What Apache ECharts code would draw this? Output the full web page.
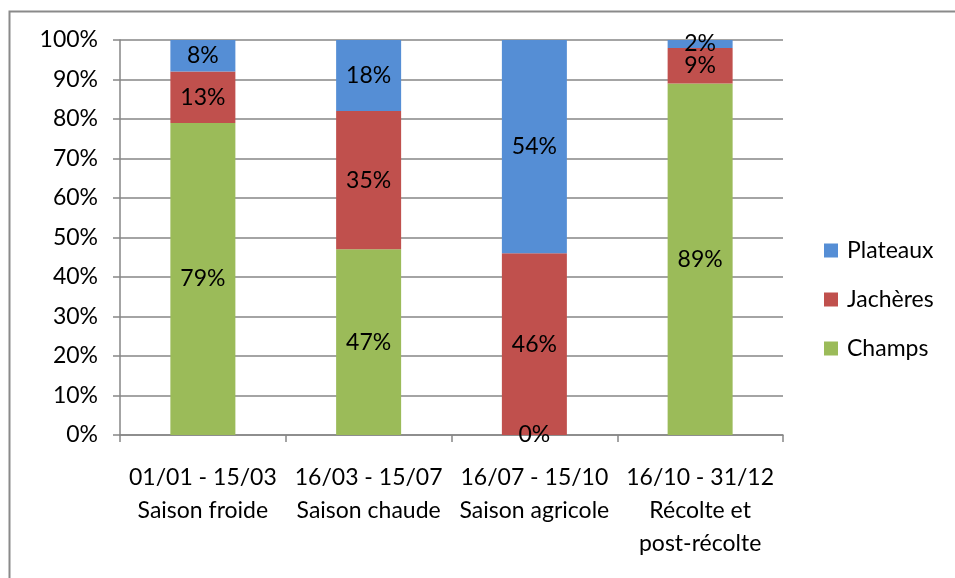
<!DOCTYPE html>
<html>
<head>
<meta charset="utf-8">
<script src="https://cdn.jsdelivr.net/npm/echarts@6/dist/echarts.min.js"></script>
<style>
  html, body { margin: 0; padding: 0; background: #fff; }
  #main { width: 955px; height: 578px; }
</style>
</head>
<body>
<div id="main"></div>
<script>
// periodes (axe x)
var categories = [
    '01/01 - 15/03\nSaison froide',
    '16/03 - 15/07\nSaison chaude',
    '16/07 - 15/10\nSaison agricole',
    '16/10 - 31/12\nRécolte et\npost-récolte'
];
// parts en %
var champs = [79, 47, 0, 89];
var jacheres = [13, 35, 46, 9];
var plateaux = [8, 18, 54, 2];

var font = 'Lato, "Open Sans", sans-serif';
var fs = 23;

var dom = document.getElementById('main');
var myChart = echarts.init(dom, null, { renderer: 'canvas' });

function serie(name, data, color) {
    return {
        name: name,
        type: 'bar',
        stack: 'total',
        data: data,
        barWidth: 65,
        itemStyle: { color: color },
        label: {
            show: true,
            position: 'inside',
            formatter: '{c}%',
            color: '#000',
            fontSize: fs,
            fontFamily: font
        },
        animation: false
    };
}

var option = {
    backgroundColor: '#fff',
    graphic: [{
        type: 'rect',
        shape: { x: 9.5, y: 11.5, width: 960, height: 580 },
        style: { fill: 'none', stroke: '#8a8a8a', lineWidth: 2 },
        silent: true
    }],
    grid: { left: 120, right: 172, top: 40, bottom: 143 },
    legend: {
        data: ['Plateaux', 'Jachères', 'Champs'],
        orient: 'vertical',
        left: 824,
        top: 239,
        padding: 0,
        itemWidth: 14,
        itemHeight: 14,
        itemGap: 26,
        icon: 'rect',
        textStyle: { fontSize: fs, fontFamily: font, color: '#000', padding: [0, 0, 0, 4] }
    },
    xAxis: {
        type: 'category',
        data: categories,
        axisLine: { lineStyle: { color: '#868686', width: 1.5 } },
        axisTick: { show: true, length: 7, lineStyle: { color: '#868686', width: 1.5 } },
        axisLabel: {
            fontSize: fs,
            fontFamily: font,
            color: '#000',
            lineHeight: 33,
            margin: 26,
            interval: 0
        }
    },
    yAxis: {
        type: 'value',
        min: 0,
        max: 100,
        interval: 10,
        axisLine: { show: true, lineStyle: { color: '#868686', width: 1.5 } },
        axisTick: { show: true, length: 7, inside: false, lineStyle: { color: '#868686', width: 1.5 } },
        splitLine: { lineStyle: { color: '#868686', width: 1.5 } },
        axisLabel: {
            formatter: '{value}%',
            fontSize: fs,
            fontFamily: font,
            color: '#000',
            margin: 22
        }
    },
    series: [
        serie('Champs', champs, '#9BBB59'),
        serie('Jachères', jacheres, '#C0504D'),
        serie('Plateaux', plateaux, '#558ED5')
    ]
};

myChart.setOption(option);
window.addEventListener('resize', myChart.resize);
</script>
</body>
</html>
